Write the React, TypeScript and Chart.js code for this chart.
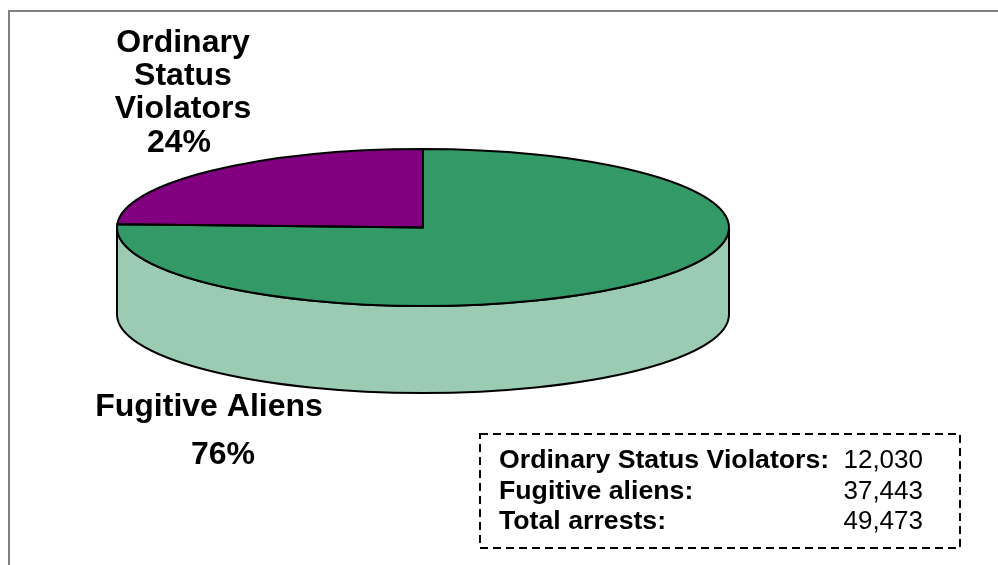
import React, { useEffect, useRef } from "react";
import { Chart, registerables } from "chart.js";

Chart.register(...registerables);

const categories = ["Fugitive Aliens", "Ordinary Status Violators"];
const arrests = [37443, 12030];
const sliceColors = ["#339966", "#800080"];
const sideColors = ["#9ccbb3", "#bf80bf"];
const ordinaryLabelLines = ["Ordinary", "Status", "Violators"];
const ordinaryPercent = "24%";
const fugitivePercent = "76%";
const boxLabels = ["Ordinary Status Violators:", "Fugitive aliens:", "Total arrests:"];
const boxValues = ["12,030", "37,443", "49,473"];

const FONT = '"Liberation Sans", Arial, sans-serif';
const RX = 306;
const RY = 78.5;
const DEPTH = 87;

const piePlugin = {
  id: "tiltedPie",
  beforeDraw(chart: any) {
    const ctx = chart.ctx;
    ctx.save();
    ctx.fillStyle = "#ffffff";
    ctx.fillRect(0, 0, chart.width, chart.height);
    ctx.fillStyle = "#808080";
    ctx.fillRect(8, 10, chart.width - 8, 2);
    ctx.fillRect(8, 10, 2, chart.height - 10);
    ctx.restore();
  },
  beforeDatasetsDraw(chart: any) {
    const ctx = chart.ctx;
    const arcs = chart.getDatasetMeta(0).data;
    ctx.save();
    arcs.forEach((arc: any, i: number) => {
      const { x, y, startAngle, endAngle } = arc.getProps(["x", "y", "startAngle", "endAngle"]);
      // visible front part of the wall: angles from 0 to PI
      for (const shift of [0, Math.PI * 2]) {
        const a0 = Math.max(startAngle, shift);
        const a1 = Math.min(endAngle, shift + Math.PI);
        if (a1 <= a0) continue;
        ctx.beginPath();
        ctx.ellipse(x, y, RX, RY, 0, a0, a1);
        ctx.ellipse(x, y + DEPTH, RX, RY, 0, a1, a0, true);
        ctx.closePath();
        ctx.fillStyle = sideColors[i];
        ctx.fill();
        ctx.lineWidth = 2;
        ctx.strokeStyle = "#000000";
        ctx.lineJoin = "round";
        ctx.stroke();
      }
    });
    ctx.restore();
    const first = arcs[0];
    const R = first.outerRadius;
    ctx.save();
    ctx.translate(first.x, first.y);
    ctx.scale(RX / R, RY / R);
    ctx.translate(-first.x, -first.y);
  },
  afterDatasetsDraw(chart: any) {
    const ctx = chart.ctx;
    ctx.restore();
    const arcs = chart.getDatasetMeta(0).data;
    ctx.save();
    ctx.lineWidth = 2;
    ctx.strokeStyle = "#000000";
    ctx.lineJoin = "round";
    arcs.forEach((arc: any) => {
      const { x, y, startAngle, endAngle } = arc.getProps(["x", "y", "startAngle", "endAngle"]);
      ctx.beginPath();
      ctx.moveTo(x, y);
      ctx.ellipse(x, y, RX, RY, 0, startAngle, endAngle);
      ctx.closePath();
      ctx.stroke();
    });
    ctx.restore();
  },
  afterDraw(chart: any) {
    const ctx = chart.ctx;
    ctx.save();
    ctx.fillStyle = "#000000";
    ctx.textBaseline = "alphabetic";
    ctx.font = `bold 32px ${FONT}`;
    ctx.textAlign = "center";
    ordinaryLabelLines.forEach((line, i) => {
      ctx.fillText(line, 183, 52 + i * 33);
    });
    ctx.fillText(ordinaryPercent, 179, 152);
    ctx.fillText(categories[0], 209, 416);
    ctx.fillText(fugitivePercent, 223, 464);

    ctx.font = `bold 26.7px ${FONT}`;
    ctx.textAlign = "left";
    boxLabels.forEach((label, i) => ctx.fillText(label, 499, 468 + i * 30.5));
    ctx.font = `26px ${FONT}`;
    ctx.textAlign = "right";
    boxValues.forEach((value, i) => ctx.fillText(value, 923, 468 + i * 30.5));

    ctx.strokeStyle = "#000000";
    ctx.lineWidth = 2;
    ctx.setLineDash([8, 5]);
    ctx.strokeRect(480, 434, 480, 114);
    ctx.restore();
  },
};

export default function App() {
  const ref = useRef<HTMLCanvasElement | null>(null);
  useEffect(() => {
    const chart = new Chart(ref.current as HTMLCanvasElement, {
      type: "pie",
      data: {
        labels: categories,
        datasets: [
          {
            data: arrests,
            backgroundColor: sliceColors,
            borderWidth: 0,
            clip: false,
          } as any,
        ],
      },
      options: {
        responsive: false,
        animation: false,
        events: [],
        layout: { padding: { left: 0, right: 152, top: 0, bottom: 110 } },
        plugins: { legend: { display: false }, tooltip: { enabled: false }, title: { display: false } },
      },
      plugins: [piePlugin],
    });
    return () => chart.destroy();
  }, []);
  return (
    <div style={{ position: "absolute", left: 0, top: 0, width: 998, height: 565 }}>
      <canvas ref={ref} width={998} height={565} style={{ display: "block" }} />
    </div>
  );
}
